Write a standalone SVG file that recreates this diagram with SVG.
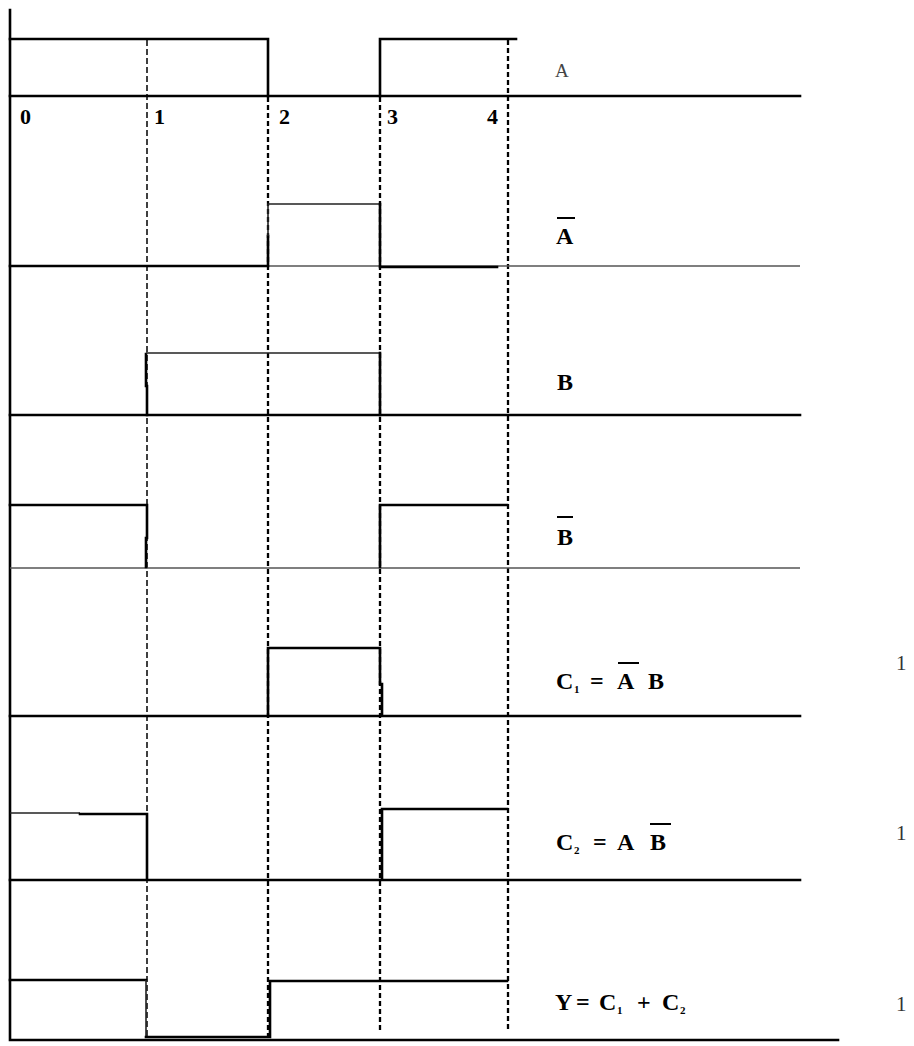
<svg xmlns="http://www.w3.org/2000/svg" width="914" height="1046" viewBox="0 0 914 1046">
<style>
.w{fill:none;stroke:#000;stroke-width:2.6;stroke-linecap:square;stroke-linejoin:miter}
.t{fill:none;stroke:#222;stroke-width:1.6}
.g{fill:none;stroke:#555;stroke-width:1.6}
.d{fill:none;stroke:#000;stroke-width:2.3;stroke-dasharray:5 3}
.d1{fill:none;stroke:#000;stroke-width:1.5;stroke-dasharray:6 3}
.ov{stroke:#000;stroke-width:2}
.l{font-family:"Liberation Serif","Times New Roman",serif;font-weight:bold;font-size:24px;fill:#000}
.n{font-family:"Liberation Serif","Times New Roman",serif;font-weight:bold;font-size:22px;fill:#000}
.s{font-family:"Liberation Serif","Times New Roman",serif;font-weight:bold;font-size:11px;fill:#000}
.r{font-family:"Liberation Serif","Times New Roman",serif;font-size:21px;fill:#333}
</style>
<g id="connectors">
<line class="d1" x1="147" y1="40" x2="147" y2="1036"/>
<line class="d" x1="268" y1="97" x2="268" y2="1036"/>
<line class="d" x1="380" y1="97" x2="380" y2="1032"/>
<line class="d" x1="508" y1="40" x2="508" y2="1032"/>
</g>
<g id="axis">
<path class="w" d="M10,10 V1040 H838"/>
</g>
<g id="sigA">
<path class="w" d="M10,39 H268 V96"/>
<path class="w" d="M380,96 V39 H516"/>
<line class="w" x1="10" y1="96" x2="800" y2="96"/>
<text class="n" x="20" y="124">0</text>
<text class="n" x="154" y="124">1</text>
<text class="n" x="279" y="124">2</text>
<text class="n" x="387" y="124">3</text>
<text class="n" x="487" y="124">4</text>
<text x="555" y="77" style="font-family:'Liberation Serif','Times New Roman',serif;font-size:19px;fill:#444">A</text>
</g>
<g id="sigAbar">
<line class="g" x1="10" y1="266" x2="800" y2="266"/>
<path class="w" d="M10,266 H268 V236"/>
<path class="t" d="M268,236 V204 H380"/>
<path class="w" d="M380,204 V267 H497"/>
<text class="l" x="556" y="244">A</text>
<line class="ov" x1="557" y1="218" x2="575" y2="218"/>
</g>
<g id="sigB">
<line class="w" x1="10" y1="415" x2="800" y2="415"/>
<path class="w" d="M147,415 V386 H146 V354"/>
<path class="t" d="M146,353 H380"/>
<line class="w" x1="380" y1="353" x2="380" y2="415"/>
<text class="l" x="557" y="390">B</text>
</g>
<g id="sigBbar">
<line class="g" x1="10" y1="568" x2="800" y2="568"/>
<path class="w" d="M10,505 H147 V538 H146 V567"/>
<path class="w" d="M380,567 V505 H507"/>
<text class="l" x="557" y="545">B</text>
<line class="ov" x1="557" y1="517" x2="573" y2="517"/>
</g>
<g id="sigC1">
<line class="w" x1="10" y1="716" x2="800" y2="716"/>
<path class="w" d="M268,716 V648 H380 V684 H382 V715"/>
<text class="l" x="556" y="689">C</text>
<text class="s" x="574" y="693">1</text>
<text class="l" x="590" y="689">=</text>
<text class="l" x="617" y="689">A</text>
<line class="ov" x1="618" y1="663" x2="639" y2="663"/>
<text class="l" x="648" y="689">B</text>
<text class="r" x="896" y="670">1</text>
</g>
<g id="sigC2">
<line class="w" x1="10" y1="880" x2="800" y2="880"/>
<line class="t" x1="10" y1="813" x2="80" y2="813"/>
<path class="w" d="M80,814 H147 V879"/>
<path class="w" d="M382,879 V809 H507"/>
<text class="l" x="556" y="850">C</text>
<text class="s" x="574" y="854">2</text>
<text class="l" x="593" y="850">=</text>
<text class="l" x="617" y="850">A</text>
<text class="l" x="650" y="850">B</text>
<line class="ov" x1="650" y1="824" x2="671" y2="824"/>
<text class="r" x="896" y="840">1</text>
</g>
<g id="sigY">
<line class="w" x1="10" y1="980" x2="146" y2="980"/>
<line class="t" x1="146" y1="980" x2="146" y2="1037"/>
<path class="w" d="M146,1037 H270 V981 H507"/>
<text class="l" x="555" y="1010">Y</text>
<text class="l" x="576" y="1010">=</text>
<text class="l" x="599" y="1010">C</text>
<text class="s" x="617" y="1014">1</text>
<text class="l" x="637" y="1010">+</text>
<text class="l" x="662" y="1010">C</text>
<text class="s" x="680" y="1014">2</text>
<text class="r" x="896" y="1011">1</text>
</g>
</svg>
